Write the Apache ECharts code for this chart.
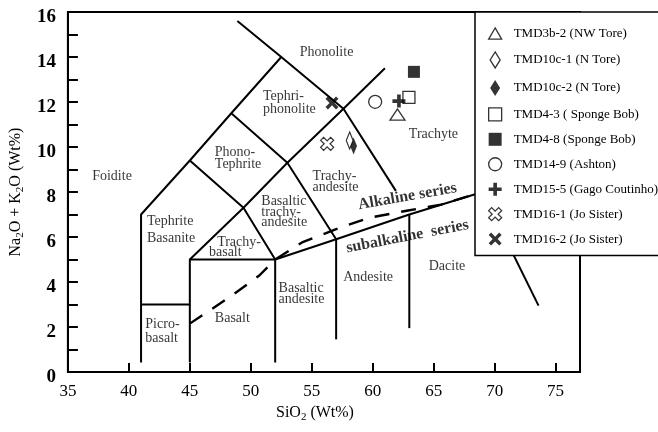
<!DOCTYPE html>
<html><head><meta charset="utf-8">
<script src="https://cdn.jsdelivr.net/npm/echarts@6/dist/echarts.min.js"></script>
<style>html,body{margin:0;padding:0;background:#fff}#c{width:658px;height:432px}</style>
</head><body><div id="c"></div>
<script>
// ---- data ----
const sampleNames = ['TMD3b-2 (NW Tore)','TMD10c-1 (N Tore)','TMD10c-2 (N Tore)','TMD4-3 ( Sponge Bob)','TMD4-8 (Sponge Bob)','TMD14-9 (Ashton)','TMD15-5 (Gago Coutinho)','TMD16-1 (Jo Sister)','TMD16-2 (Jo Sister)'];
const sampleSiO2 = [62.03, 58.11, 58.43, 62.97, 63.38, 60.20, 62.15, 56.26, 56.66];
const sampleAlkali = [11.44, 10.29, 10.04, 12.21, 13.34, 12.01, 12.04, 10.14, 11.96];

const xMin = 35, xMax = 77, xStep = 5;
const yMin = 0, yMax = 16, yStep = 1;

// TAS field boundaries (SiO2, Na2O+K2O)
const boundaryLines = [
  [[41,0.42],[41,7],[45,9.4],[48.4,11.5],[52.5,14]],
  [[41,3],[45,3]],
  [[45,0.42],[45,5],[52,5],[52,0.42]],
  [[45,5],[49.4,7.3],[53,9.3],[57.6,11.7],[61,13.5]],
  [[45,9.4],[49.4,7.3],[52,5]],
  [[48.4,11.5],[53,9.3],[57,5.9]],
  [[48.9,15.6],[52.5,14],[57.6,11.7],[61.9,8.05]],
  [[57,5.9],[57,1.45]],
  [[63,7],[63,1.95]],
  [[52,5],[57,5.9],[63,7],[69,8],[72,8.5]],
  [[69,8],[73.6,2.95]]
];
const alkalineDivide = [[45,2.15],[48.35,3.36],[50.7,4.29],[52,5],[54.2,5.76],[56.9,6.33],[59.66,6.85],[62.9,7.18],[65.6,7.44],[67.8,7.81],[69.5,8.1]];

// field names: [text, SiO2, alkali] (left edge, middle of line)
const fieldNames = [
  ['Phonolite',53.97,14.21],
  ['Tephri-',50.95,12.24],['phonolite',50.95,11.67],
  ['Phono-',47.01,9.76],['Tephrite',47.01,9.22],
  ['Foidite',36.95,8.70],
  ['Tephrite',41.44,6.70],['Basanite',41.44,5.92],
  ['Trachy-',47.20,5.77],['basalt',46.53,5.30],
  ['Picro-',41.31,2.14],['basalt',41.31,1.49],
  ['Basalt',47.01,2.38],
  ['Basaltic',52.24,3.71],['andesite',52.24,3.22],
  ['Andesite',57.54,4.19],
  ['Dacite',64.55,4.70],
  ['Basaltic',50.82,7.59],['trachy-',50.82,7.08],['andesite',50.82,6.63],
  ['Trachy-',55.03,8.70],['andesite',55.03,8.19],
  ['Trachyte',62.92,10.56]
];
const seriesNames = [['Alkaline series',62.85,7.80,10],['subalkaline  series',62.85,6.02,11]];

// ---- styles ----
const FONT = 'Liberation Serif';
const P = {
  tri:'path://M7,0L14,12L0,12Z',
  dia:'path://M5,0L10,8L5,16L0,8Z',
  sq:'path://M0,0H10V10H0Z',
  plus:'path://M3.6,0H6.4V3.6H10V6.4H6.4V10H3.6V6.4H0V3.6H3.6Z',
  xo:'path://M0,2.3L2.3,0L5,2.7L7.7,0L10,2.3L7.3,5L10,7.7L7.7,10L5,7.3L2.3,10L0,7.7L2.7,5Z',
  xf:'path://M0,1.9L1.9,0L5,3.1L8.1,0L10,1.9L6.9,5L10,8.1L8.1,10L5,6.9L1.9,10L0,8.1L3.1,5Z'
};
const open = {color:'#fff', borderColor:'#000', borderWidth:1.3};
const full = {color:'#000', borderColor:'#000', borderWidth:0};
const markerStyles = [
  {symbol:P.tri, size:[15,13], st:open, z:3},
  {symbol:P.dia, size:[11,17], st:open, z:4},
  {symbol:P.dia, size:[11,17], st:full, z:3},
  {symbol:P.sq, size:[12,12], st:open, z:3},
  {symbol:P.sq, size:[12,12], st:full, z:3},
  {symbol:'circle', size:13, st:open, z:3},
  {symbol:P.plus, size:13, st:full, z:3},
  {symbol:P.xo, size:13, st:open, z:3},
  {symbol:P.xf, size:13, st:full, z:3}
];

const series = [];
boundaryLines.forEach(pts => series.push({
  type:'line', data:pts, symbol:'none', silent:true, z:2,
  lineStyle:{color:'#000', width:2}
}));
series.push({type:'line', data:alkalineDivide, symbol:'none', silent:true, z:2,
  lineStyle:{color:'#000', width:2.4, type:[15,12]}});
series.push({type:'scatter', silent:true, symbolSize:1, z:2,
  itemStyle:{color:'rgba(0,0,0,0)'},
  data: fieldNames.map(f => ({name:f[0], value:[f[1], f[2]]})),
  label:{show:true, position:'right', distance:0, formatter:'{b}', color:'#000', fontFamily:FONT, fontSize:14}
});
seriesNames.forEach(s => series.push({type:'scatter', silent:true, symbolSize:1, z:2,
  itemStyle:{color:'rgba(0,0,0,0)'},
  data:[{name:s[0], value:[s[1], s[2]]}],
  label:{show:true, position:'inside', rotate:s[3], formatter:'{b}', color:'#000', fontFamily:FONT, fontSize:16, fontWeight:'bold'}
}));
sampleNames.forEach((n,i) => {
  const m = markerStyles[i];
  series.push({type:'scatter', name:n, data:[[sampleSiO2[i], sampleAlkali[i]]],
    symbol:m.symbol, symbolSize:m.size, symbolKeepAspect:true, z:m.z, itemStyle:m.st});
});

const chart = echarts.init(document.getElementById('c'), null, {renderer:'canvas'});
chart.setOption({
  animation:false,
  backgroundColor:'#fff',
  grid:{left:64, right:78, top:12, bottom:60, show:true, borderColor:'#000', borderWidth:2, backgroundColor:'transparent'},
  xAxis:{type:'value', min:xMin, max:xMax, interval:xStep,
    axisLine:{lineStyle:{color:'#000', width:2}},
    axisTick:{inside:true, length:9, lineStyle:{color:'#000', width:2}},
    splitLine:{show:false},
    axisLabel:{color:'#000', fontFamily:FONT, fontSize:17, margin:11, showMaxLabel:false,
      formatter: v => (v > 75 ? '' : String(v))},
    name:'{a|SiO}{s|2}{a| (Wt%)}', nameLocation:'middle', nameGap:30,
    nameTextStyle:{padding:[0,18,0,0], rich:{
      a:{fontFamily:FONT, fontSize:16, color:'#000', lineHeight:20},
      s:{fontFamily:FONT, fontSize:11, color:'#000', lineHeight:10, verticalAlign:'bottom'}}}
  },
  yAxis:{type:'value', min:yMin, max:yMax, interval:yStep,
    axisLine:{lineStyle:{color:'#000', width:2}},
    axisTick:{inside:true, length:10, lineStyle:{color:'#000', width:2}},
    splitLine:{show:false},
    axisLabel:{margin:12,
      formatter: v => (v % 2 === 0 ? '{v|' + v + '}' : ''),
      rich:{v:{color:'#000', fontFamily:FONT, fontSize:19, fontWeight:'bold', padding:[10,0,0,0]}}},
    name:'{a|Na}{s|2}{a|O + K}{s|2}{a|O (Wt%)}', nameLocation:'middle', nameGap:40,
    nameTextStyle:{rich:{
      a:{fontFamily:FONT, fontSize:16, color:'#000', lineHeight:20},
      s:{fontFamily:FONT, fontSize:11, color:'#000', lineHeight:10, verticalAlign:'bottom'}}}
  },
  legend:{orient:'vertical', left:475, top:12, padding:[15,12,10,13],
    itemWidth:13, itemHeight:16, itemGap:11.3, selectedMode:false,
    backgroundColor:'#fff', borderColor:'#000', borderWidth:1.5,
    textStyle:{fontFamily:FONT, fontSize:13, color:'#000', padding:[0,0,0,7]},
    data: sampleNames.map((n,i) => ({name:n, icon:markerStyles[i].symbol,
      itemStyle:Object.assign({}, markerStyles[i].st)}))
  },
  series
});
</script></body></html>
